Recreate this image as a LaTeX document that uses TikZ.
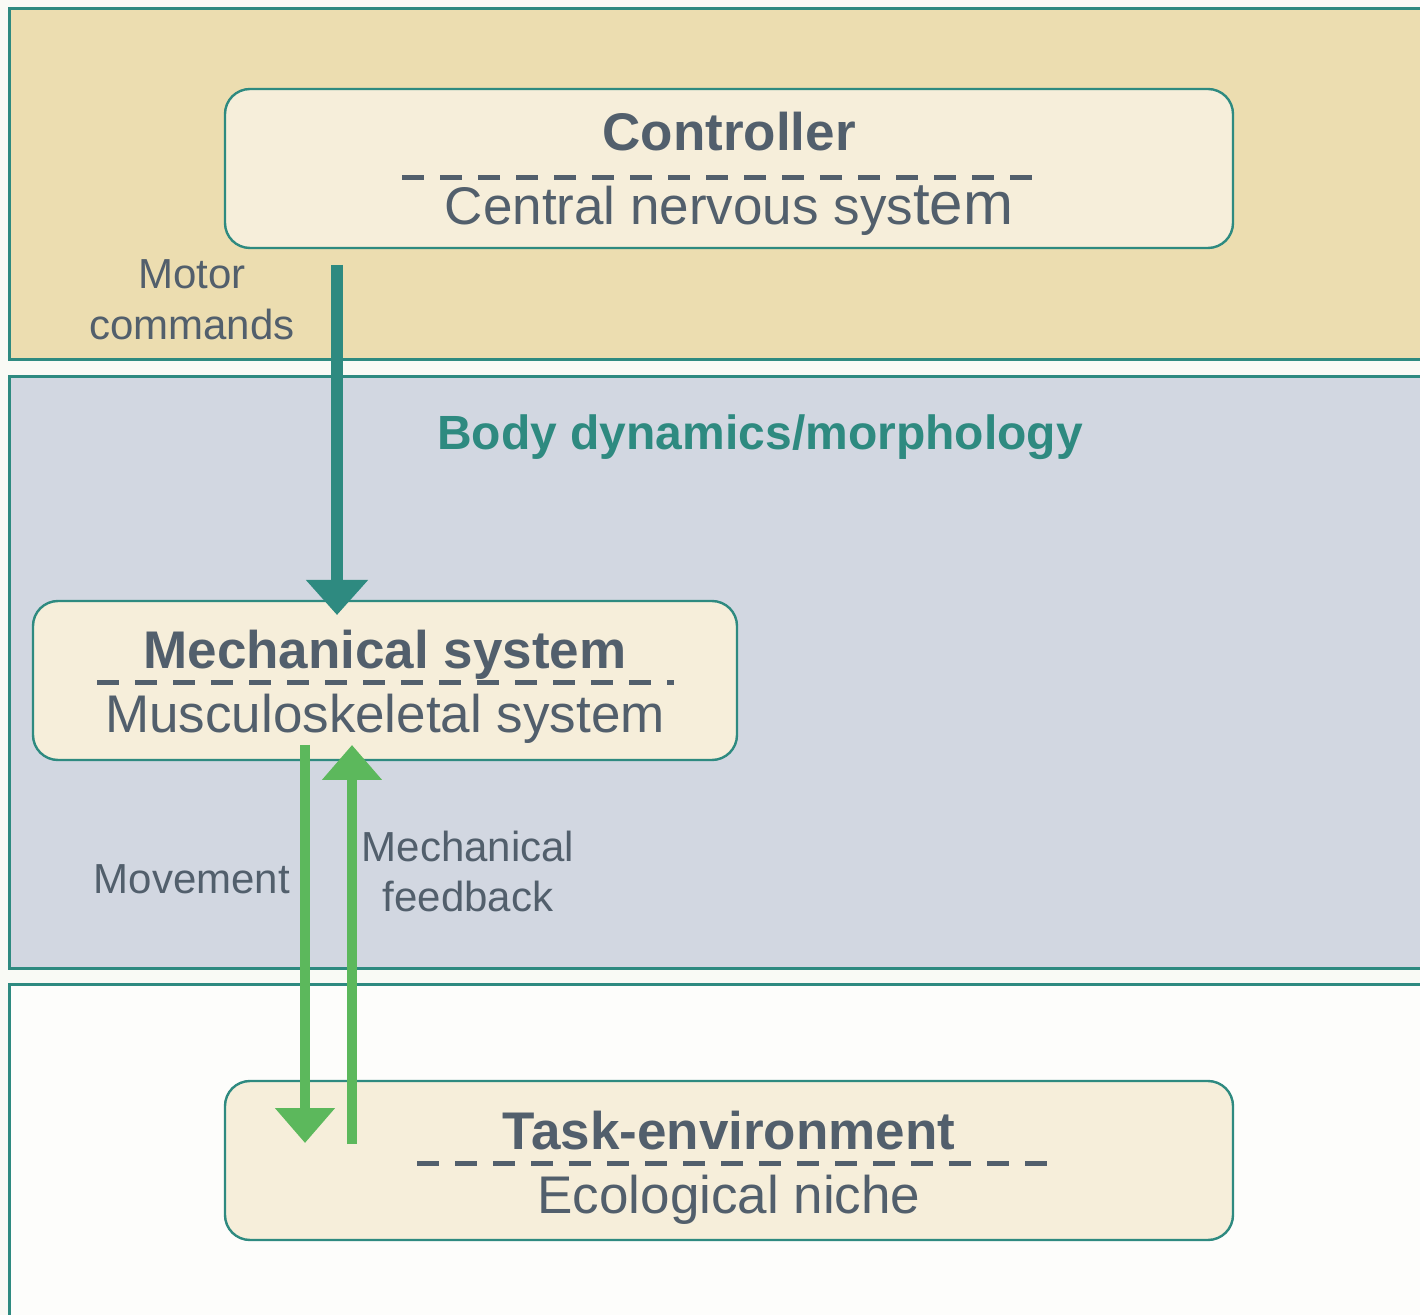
\documentclass[tikz,border=0pt]{standalone}
\usepackage{fontspec}
\setmainfont{Liberation Sans}
\usetikzlibrary{arrows.meta}
\definecolor{pagebg}{HTML}{F9FAF5}
\definecolor{topband}{HTML}{ECDDB0}
\definecolor{midband}{HTML}{D2D7E1}
\definecolor{botband}{HTML}{FDFDFB}
\definecolor{boxfill}{HTML}{F6EEDA}
\definecolor{tealc}{HTML}{2E8A80}
\definecolor{greenc}{HTML}{5CB85C}
\definecolor{textc}{HTML}{525F6C}
\begin{document}
\begin{tikzpicture}[x=0.5pt,y=-0.5pt,
  band/.style={draw=tealc,line width=1.5pt},
  box/.style={draw=tealc,line width=1.2pt,fill=boxfill,rounded corners=12.5pt,inner sep=0pt},
  titletext/.style={text=textc,font=\fontsize{26.5}{30}\selectfont\bfseries,inner sep=0pt,anchor=base},
  subtext/.style={text=textc,font=\fontsize{26.5}{30}\selectfont,inner sep=0pt,anchor=base},
  labeltext/.style={text=textc,font=\fontsize{21}{25}\selectfont,inner sep=0pt,anchor=base},
  dashline/.style={draw=textc,line width=2.5pt,dash pattern=on 11pt off 8pt},
  tealarrow/.style={draw=tealc,line width=6pt,-{Triangle[length=17.5pt,width=30pt]}},
  greenarrow/.style={draw=greenc,line width=5pt,-{Triangle[length=17.5pt,width=29pt]}}]
\fill[pagebg] (0,0) rectangle (1420,1315);
\clip (0,0) rectangle (1420,1315);
% bands
\filldraw[band,fill=topband] (9,9) rectangle (1440,360);
\filldraw[band,fill=midband] (9,377) rectangle (1440,968);
\filldraw[band,fill=botband] (9,984) rectangle (1440,1340);
% boxes
\node[box,minimum width=504pt,minimum height=79.5pt] (ctrl) at (729,168.5) {};
\node[box,minimum width=352pt,minimum height=79.5pt] (mech) at (385,680.5) {};
\node[box,minimum width=504pt,minimum height=79.5pt] (task) at (729,1160.5) {};
% box texts
\node[titletext] (ctrlT) at (729,151) {Controller};
\draw[dashline] (402,178) -- (1032,178);
\node[subtext] (ctrlS) at (729,225) {Central nervous sys{\fontsize{30}{34}\selectfont tem}};
\node[titletext] (mechT) at (385,669) {Mechanical system};
\draw[dashline] (97,683) -- (674,683);
\node[subtext] (mechS) at (385,733) {Musculoskeletal system};
\node[titletext] (taskT) at (729,1149) {Task-environment};
\draw[dashline] (417,1163) -- (1050,1163);
\node[subtext] (taskS) at (729,1213) {Ecological niche};
% band title
\node[text=tealc,font=\fontsize{24}{28}\selectfont\bfseries,inner sep=0pt,anchor=base] (body) at (760,450) {Body dynamics/morphology};
% labels
\node[labeltext] (motor1) at (192,289) {Motor};
\node[labeltext] (motor2) at (192,340) {commands};
\node[labeltext] (move) at (192,893) {Movement};
\node[labeltext] (fb1) at (468,862) {Mechanical};
\node[labeltext] (fb2) at (468,912) {feedback};
% arrows
\coordinate (mstart) at (337,265);
\coordinate (mend) at (337,615);
\coordinate (mvstart) at (305,745);
\coordinate (mvend) at (305,1143);
\coordinate (fbstart) at (352,1144);
\coordinate (fbend) at (352,745);
\draw[tealarrow] (mstart) -- (mend);
\draw[greenarrow] (mvstart) -- (mvend);
\draw[greenarrow] (fbstart) -- (fbend);
\end{tikzpicture}
\end{document}
